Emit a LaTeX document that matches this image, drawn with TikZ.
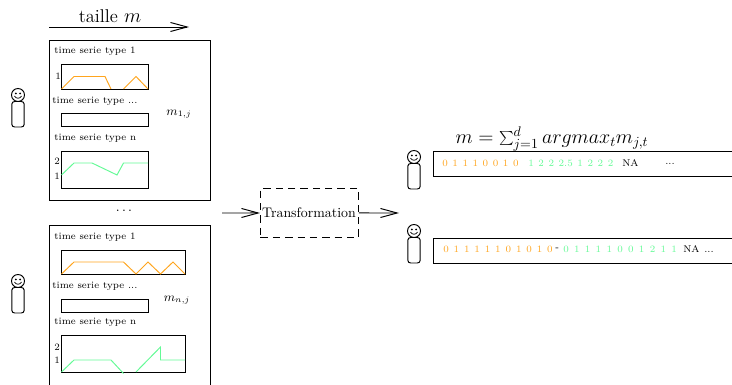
\documentclass[tikz,border=0pt]{standalone}
\usetikzlibrary{arrows.meta}
\definecolor{serieorange}{RGB}{255,165,30}
\definecolor{serievert}{RGB}{100,250,150}
\newcommand{\chiffres}{\fontsize{7}{8}\selectfont\spaceskip 3.3pt\relax}
\tikzset{
    cadre/.style={draw, line width=0.7pt, anchor=north west, inner sep=0pt},
    serie/.style={font=\fontsize{7}{8}\selectfont, anchor=west, inner sep=0pt},
    valeurs/.style={font=\chiffres, anchor=west, inner sep=0pt},
    grosse/.style={font=\fontsize{13.3}{16}\selectfont, inner sep=0pt},
    fleche/.style={-{Straight Barb[length=12pt,width=6.5pt]}, line width=0.7pt},
    courbe/.style={line width=0.7pt},
    personne/.pic={
        \draw[line width=0.7pt] (0,0) circle (6.5);
        \fill (-2.2,-1.5) circle (1);
        \fill (2.2,-1.5) circle (1);
        \draw[line width=0.5pt] (-3.5,1) .. controls (-2,4) and (2,4) .. (3.5,1);
        \draw[line width=0.7pt, rounded corners=2pt] (-6.2,6.5) rectangle (6.2,32);
    }
}
\begin{document}
\begin{tikzpicture}[x=0.72pt, y=-0.72pt]
    \useasboundingbox (0,0) rectangle (732,385);
    \clip (0,0) rectangle (732,385);
    % Taille de la serie
    \coordinate (debut) at (49,27);
    \coordinate (fin) at (189,27);
    \draw[fleche] (debut) -- (fin);
    \node[grosse] (taille) at (110,16) {taille $m$};
    % Les personnes
    \pic at (18,95) {personne};
    \pic at (18,281) {personne};
    \pic at (414,157) {personne};
    \pic at (414,231) {personne};
    % Premier individu
    \node[cadre, minimum width=161*0.72pt, minimum height=160*0.72pt] (un) at (49,40) {};
    \node[serie] (unA) at (54,51) {time serie type 1};
    \node[cadre, minimum width=87*0.72pt, minimum height=25*0.72pt] (unB) at (61,64) {};
    \node[serie] (unC) at (55,76) {1};
    \draw[courbe, serieorange] (61.5,89) -- (74,76.5) -- (105,76.5) -- (111,89);
    \draw[courbe, serieorange] (123.5,89) -- (136,76.5) -- (148,89);
    \node[serie] (unD) at (52,101) {time serie type ...};
    \node[cadre, minimum width=87*0.72pt, minimum height=13*0.72pt] (unE) at (61,113.5) {};
    \node (unM) at (179,114) {\small $m_{1,j}$};
    \node[serie] (unF) at (54,138) {time serie type n};
    \node[cadre, minimum width=87*0.72pt, minimum height=37*0.72pt] (unG) at (61,151) {};
    \node[serie] (unH) at (54,161) {2};
    \node[serie] (unI) at (54,176) {1};
    \draw[courbe, serievert] (61.5,175) -- (74,163) -- (92,163) -- (117,175) -- (123.5,163) -- (148,163);
    % Les points
    \node (points) at (124,211) {$\dots$};
    % Dernier individu
    \node[cadre, minimum width=161*0.72pt, minimum height=170*0.72pt] (n) at (49,225) {};
    \node[serie] (nA) at (54,237) {time serie type 1};
    \node[cadre, minimum width=124*0.72pt, minimum height=24*0.72pt] (nB) at (61,250) {};
    \draw[courbe, serieorange] (61.5,274) -- (74,262) -- (123.5,262) -- (136,274) -- (148,262) -- (160.5,274) -- (173,262) -- (185,274);
    \node[serie] (nD) at (52,286) {time serie type ...};
    \node[cadre, minimum width=87*0.72pt, minimum height=13*0.72pt] (nE) at (61,299) {};
    \node (nM) at (177,300) {\small $m_{n,j}$};
    \node[serie] (nF) at (54,322) {time serie type n};
    \node[cadre, minimum width=124*0.72pt, minimum height=37*0.72pt] (nG) at (61,335) {};
    \node[serie] (nH) at (54,347) {2};
    \node[serie] (nI) at (54,360) {1};
    \draw[courbe, serievert] (61.5,372) -- (74,360) -- (111,360) -- (123.5,373.5);
    \draw[courbe, serievert] (136,372) -- (160.5,347) -- (160.5,360) -- (185,360);
    % Transformation
    \node[cadre, dash pattern=on 5.3pt off 3.6pt, minimum width=98*0.72pt, minimum height=49*0.72pt] (transfo) at (260,188) {};
    \node[inner sep=0pt] (texte) at (309,213) {Transformation};
    \coordinate (entree) at (222,213);
    \coordinate (sortie) at (399,213);
    \draw[fleche] (entree) -- (transfo.west);
    \draw[fleche] (transfo.east) -- (sortie);
    % Resultat
    \node[grosse, font=\fontsize{14}{17}\selectfont] (formule) at (552,139) {$m = \sum_{j=1}^{d} argmax_t m_{j,t}$};
    \node[cadre, minimum width=320*0.72pt, minimum height=25*0.72pt] (ligneA) at (432.5,151) {};
    \node[cadre, minimum width=320*0.72pt, minimum height=25*0.72pt] (ligneB) at (432.5,238) {};
    \node[valeurs, text=serieorange] (aA) at (442,163.5) {0 1 1 1 0 0 1 0};
    \node[valeurs, text=serievert] (aB) at (528,163.5) {1 2 2 2.5 1 2 2 2};
    \node[valeurs] (aC) at (622,163.5) {NA};
    \node[valeurs] (aD) at (665,163.5) {...};
    \node[valeurs, text=serieorange] (bA) at (443,249.5) {\spaceskip 3.5pt 0 1 1 1 1 1 0 1 0 1 0};
    \node[valeurs] (bB) at (555,249.5) {-};
    \node[valeurs, text=serievert] (bC) at (563,249.5) {\spaceskip 3.8pt 0 1 1 1 1 0 0 1 2 1 1};
    \node[valeurs] (bD) at (683,249.5) {NA ...};
\end{tikzpicture}
\end{document}
